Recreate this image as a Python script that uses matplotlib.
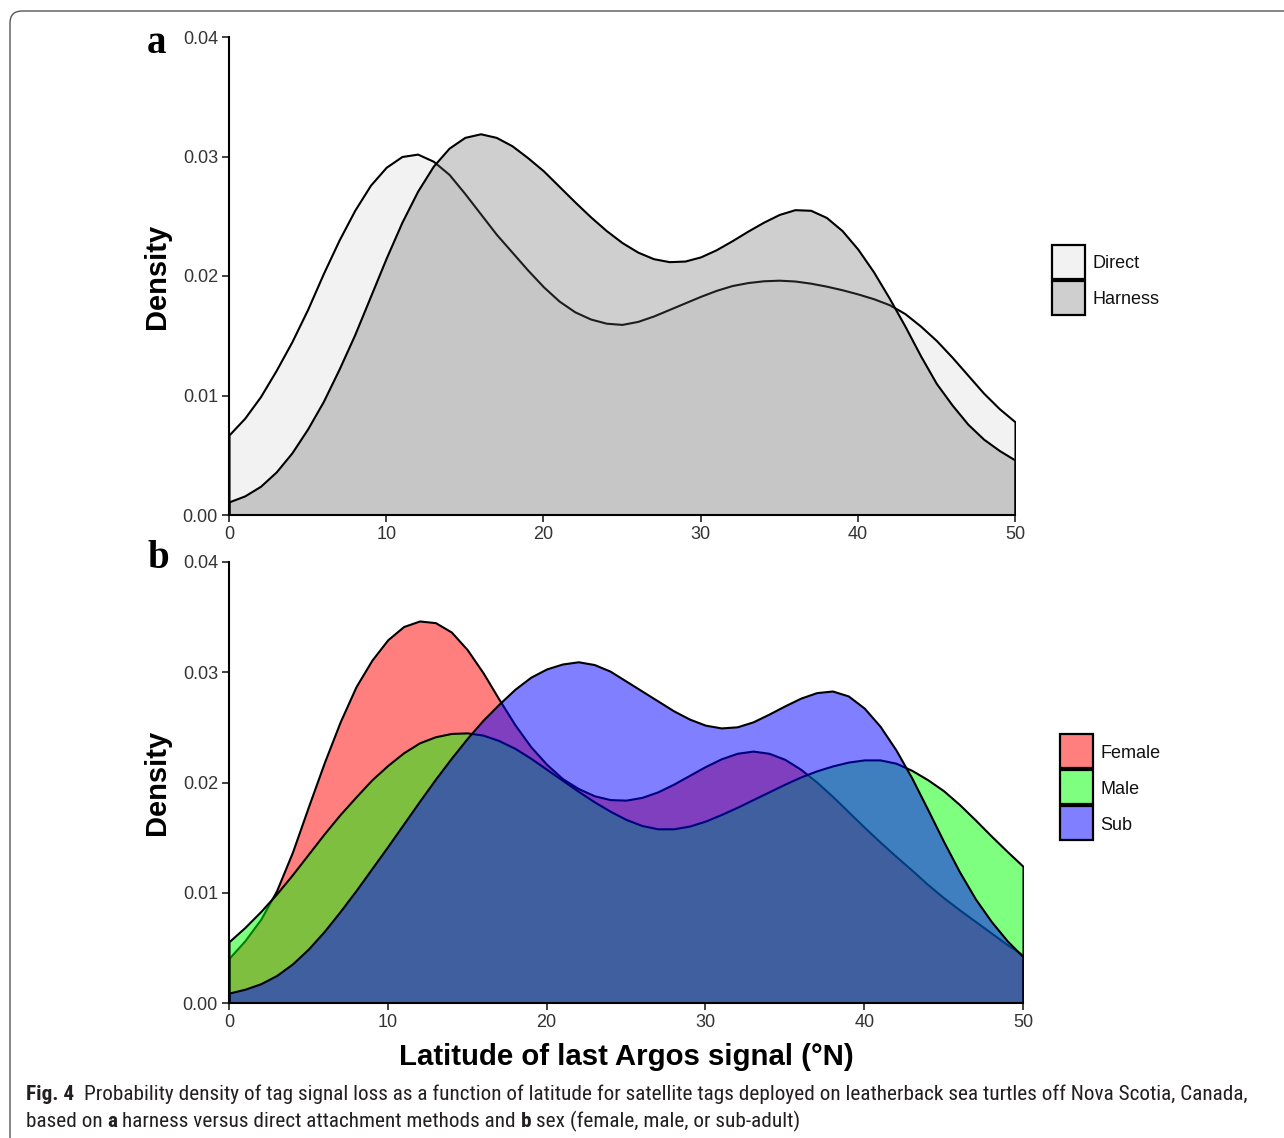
import numpy as np
import matplotlib
matplotlib.use("Agg")
import matplotlib.pyplot as plt
from matplotlib.patches import Rectangle, FancyBboxPatch
import matplotlib.font_manager as fm

plt.rcParams['font.family'] = ['Liberation Sans', 'DejaVu Sans']

# latitude grid (degrees N) and densities (x 0.001)
lat = np.arange(0, 51)

direct = [6.7, 8.1, 9.9, 12.1, 14.5, 17.2, 20.2, 23.0, 25.5, 27.6, 29.1,
          30.0, 30.2, 29.6, 28.5, 26.9, 25.2, 23.5, 22.0, 20.5, 19.1,
          17.9, 17.0, 16.4, 16.05, 15.95, 16.2, 16.65, 17.2, 17.75, 18.3,
          18.8, 19.2, 19.45, 19.6, 19.65, 19.58, 19.4, 19.15, 18.85, 18.5,
          18.1, 17.6, 16.85, 15.8, 14.6, 13.2, 11.7, 10.2, 8.9, 7.8]
harness = [1.1, 1.6, 2.4, 3.6, 5.2, 7.2, 9.5, 12.2, 15.1, 18.3, 21.5,
           24.5, 27.1, 29.2, 30.7, 31.6, 31.9, 31.6, 30.9, 29.9, 28.8,
           27.5, 26.2, 24.95, 23.8, 22.8, 22.0, 21.45, 21.2, 21.25, 21.6,
           22.2, 22.95, 23.75, 24.5, 25.15, 25.55, 25.5, 24.9, 23.8, 22.25,
           20.35, 18.15, 15.8, 13.3, 11.0, 9.2, 7.6, 6.35, 5.4, 4.6]

female = [4.05, 5.65, 7.6, 10.2, 13.7, 17.8, 21.8, 25.5, 28.7, 31.1, 32.95,
          34.15, 34.65, 34.5, 33.65, 32.05, 29.95, 27.55, 25.25, 23.25, 21.65,
          20.35, 19.45, 18.8, 18.45, 18.4, 18.65, 19.15, 19.85, 20.65, 21.45,
          22.15, 22.65, 22.85, 22.65, 22.1, 21.2, 20.05, 18.75, 17.35, 15.95,
          14.6, 13.3, 12.05, 10.75, 9.55, 8.45, 7.4, 6.35, 5.3, 4.35]
male = [5.56, 6.85, 8.3, 9.9, 11.65, 13.5, 15.35, 17.1, 18.7, 20.25, 21.55,
        22.7, 23.6, 24.15, 24.45, 24.5, 24.3, 23.8, 23.1, 22.2, 21.2,
        20.2, 19.2, 18.25, 17.4, 16.65, 16.1, 15.8, 15.8, 16.05, 16.5,
        17.1, 17.75, 18.45, 19.15, 19.85, 20.5, 21.05, 21.5, 21.85, 22.05,
        22.05, 21.75, 21.1, 20.25, 19.25, 18.0, 16.6, 15.15, 13.75, 12.4]
sub = [0.9, 1.25, 1.75, 2.5, 3.55, 4.9, 6.5, 8.3, 10.2, 12.2, 14.2,
       16.25, 18.3, 20.3, 22.2, 24.0, 25.65, 27.1, 28.45, 29.55, 30.3,
       30.75, 30.95, 30.7, 30.1, 29.2, 28.3, 27.4, 26.5, 25.75, 25.2,
       24.95, 25.05, 25.5, 26.2, 26.95, 27.65, 28.15, 28.3, 27.85, 26.75,
       25.1, 22.95, 20.4, 17.55, 14.65, 11.9, 9.45, 7.4, 5.65, 4.2]

groups_a = ["Direct", "Harness"]
groups_b = ["Female", "Male", "Sub"]
yticks = [0.00, 0.01, 0.02, 0.03, 0.04]
xticks = [0, 10, 20, 30, 40, 50]

colors_a = [(0.83, 0.83, 0.83, 0.3), (0.384, 0.384, 0.384, 0.3)]
colors_b = [(1, 0, 0, 0.5), (0, 1, 0, 0.5), (0, 0, 1, 0.5)]

W, H = 1284, 1138
fig = plt.figure(figsize=(W / 100, H / 100), dpi=100)


def fx(px):
    return px / W


def fy(py):
    return 1 - py / H


def style_axes(ax):
    for s in ['top', 'right']:
        ax.spines[s].set_visible(False)
    for s in ['left', 'bottom']:
        ax.spines[s].set_linewidth(1.5)
        ax.spines[s].set_color('black')
    ax.set_xlim(0, 50)
    ax.set_ylim(0, 0.04)
    ax.set_xticks(xticks)
    ax.set_yticks(yticks)
    ax.set_yticklabels(['%.2f' % v for v in yticks])
    ax.tick_params(direction='out', length=5, width=1.3, color='#333333',
                   labelsize=13, labelcolor='#333333')
    ax.tick_params(axis='y', pad=3)
    ax.tick_params(axis='x', pad=3)
    ax.set_ylabel('Density', fontsize=21, fontweight='bold', va='center')


# panel a
ax1 = fig.add_axes([fx(229), fy(515), fx(1015) - fx(229), fy(37) - fy(515)])
for vals, c in zip([direct, harness], colors_a):
    ax1.fill_between(lat, np.array(vals) / 1000, 0, facecolor=c,
                     edgecolor='black', linewidth=1.5, joinstyle='round', zorder=2)
style_axes(ax1)
ax1.yaxis.set_label_coords((157 - 229) / 786, 0.5)

# panel b
ax2 = fig.add_axes([fx(229), fy(1003), fx(1023) - fx(229), fy(562) - fy(1003)])
for vals, c in zip([female, male, sub], colors_b):
    ax2.fill_between(lat, np.array(vals) / 1000, 0, facecolor=c,
                     edgecolor='black', linewidth=1.5, joinstyle='round', zorder=2)
style_axes(ax2)
ax2.yaxis.set_label_coords((157 - 229) / 794, 0.5)

fig.text(fx(626), fy(1057), 'Latitude of last Argos signal (\u00b0N)',
         ha='center', va='center', fontsize=21.2, fontweight='bold')

# panel letters
fig.text(fx(156), fy(53), 'a', family='Liberation Serif', fontweight='bold',
         fontsize=28, ha='center', va='baseline')
fig.text(fx(158), fy(568), 'b', family='Liberation Serif', fontweight='bold',
         fontsize=28, ha='center', va='baseline')


# legends
def legend(x0, y0, names, cols, tx):
    for i, (n, c) in enumerate(zip(names, cols)):
        top = y0 + i * 36
        fig.patches.append(Rectangle((fx(x0), fy(top + 34)), fx(33), 34 / H,
                                     transform=fig.transFigure, facecolor=c,
                                     edgecolor='black', linewidth=1.6))
        fig.text(fx(tx), fy(top + 19), n, fontsize=13, va='center', ha='left',
                 color='#111111')


legend(1052, 245, groups_a, colors_a, 1092)
legend(1060, 734, groups_b, colors_b, 1100)

# frame around the figure
fig.patches.append(FancyBboxPatch((0.1, -0.3), 13.0, 11.57,
                                  boxstyle='round,pad=0,rounding_size=0.12',
                                  transform=fig.dpi_scale_trans,
                                  facecolor='none', edgecolor='#555555',
                                  linewidth=1.0))

# caption: use a condensed face if one is installed
reg_fp = fm.FontProperties(family='Liberation Sans')
bold_fp = fm.FontProperties(family='Liberation Sans', weight='bold')
cond = [f for f in fm.fontManager.ttflist
        if ('Condensed' in f.fname or 'Narrow' in f.fname)
        and 'Oblique' not in f.fname and 'Italic' not in f.fname]
for f in cond:
    if f.weight in (400, 'normal', 'regular', 'book'):
        reg_fp = fm.FontProperties(fname=f.fname)
    elif f.weight in (700, 'bold'):
        bold_fp = fm.FontProperties(fname=f.fname)

capcol = '#231f20'
line1 = [("Fig. 4", True), ("Probability density of tag signal loss as a function of "
         "latitude for satellite tags deployed on leatherback sea turtles off "
         "Nova Scotia, Canada,", False)]
line2 = [("based on", False), ("a", True), ("harness versus direct attachment "
         "methods and", False), ("b", True), ("sex (female, male, or sub-adult)", False)]

renderer = fig.canvas.get_renderer()


def make_text(x, y, s, size, bold):
    fp = (bold_fp if bold else reg_fp).copy()
    fp.set_size(size)
    return fig.text(x, y, s, fontproperties=fp, color=capcol,
                    va='baseline', ha='left')


def width_of(s, size, bold):
    t = make_text(0, 0, s, size, bold)
    w = t.get_window_extent(renderer).width
    t.remove()
    return w


def space_of(size):
    return width_of('n n', size, False) - width_of('nn', size, False)


def run_width(pieces, gaps, size):
    return sum(width_of(s, size, b) for s, b in pieces) + space_of(size) * sum(gaps)


size = 13.0
for _ in range(3):
    size = size * (1223 / run_width(line1, [2], size))


def put_run(x, y, pieces, gaps):
    sp = space_of(size)
    for i, (s, b) in enumerate(pieces):
        t = make_text(fx(x), fy(y), s, size, b)
        x += t.get_window_extent(renderer).width
        if i < len(gaps):
            x += sp * gaps[i]


put_run(26, 1100, line1, [2])
put_run(26, 1127, line2, [1, 1, 1, 1])

fig.savefig('out.png', dpi=100)
